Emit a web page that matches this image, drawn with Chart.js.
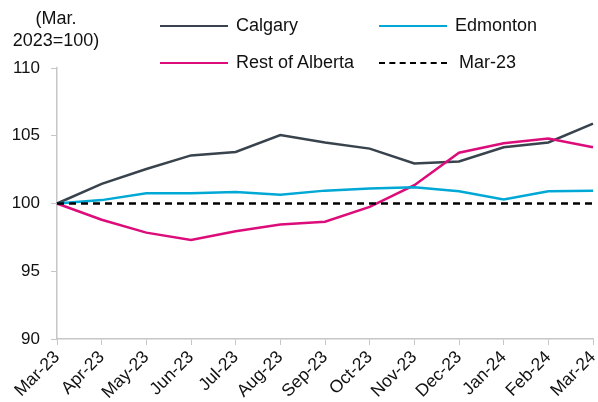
<!DOCTYPE html>
<html>
<head>
<meta charset="utf-8">
<script src="https://cdn.jsdelivr.net/npm/chart.js@4/dist/chart.umd.min.js"></script>
<style>
  html, body { margin:0; padding:0; background:#fff; }
  #wrap { position:relative; width:598px; height:402px; font-family:"Liberation Sans", Arial, sans-serif; }
  canvas { position:absolute; left:0; top:0; }
  .ytitle { position:absolute; left:-2px; top:7px; width:116px; text-align:center; font-size:18px; line-height:22px; color:#111; }
  .leg { position:absolute; font-size:18px; color:#111; display:flex; align-items:center; white-space:nowrap; }
  .leg .ln { width:68px; height:0; margin-right:8px; }
</style>
</head>
<body>
<div id="wrap">
  <canvas id="c" width="598" height="402"></canvas>
  <div class="ytitle">(Mar.<br>2023=100)</div>
  <div class="leg" style="left:160px; top:15px;"><span class="ln" style="border-top:2.5px solid #38434d"></span>Calgary</div>
  <div class="leg" style="left:379px; top:15px;"><span class="ln" style="border-top:2.5px solid #00a8d5"></span>Edmonton</div>
  <div class="leg" style="left:160px; top:52px;"><span class="ln" style="border-top:2.5px solid #dc0c7a"></span>Rest of Alberta</div>
  <div class="leg" style="left:379px; top:52px;"><span class="ln" style="border-top:2.5px dashed #000; margin-right:12px"></span>Mar-23</div>
</div>
<script>
const categories = ["Mar-23","Apr-23","May-23","Jun-23","Jul-23","Aug-23","Sep-23","Oct-23","Nov-23","Dec-23","Jan-24","Feb-24","Mar-24"];
const calgary = [100, 101.45, 102.55, 103.55, 103.8, 105.05, 104.5, 104.05, 102.95, 103.1, 104.15, 104.5, 105.9];
const edmonton = [100, 100.25, 100.75, 100.75, 100.85, 100.65, 100.95, 101.1, 101.2, 100.9, 100.3, 100.9, 100.95];
const restOfAlberta = [100, 98.8, 97.85, 97.3, 97.95, 98.45, 98.65, 99.75, 101.35, 103.75, 104.45, 104.8, 104.15];
const baseline = [100, 100, 100, 100, 100, 100, 100, 100, 100, 100, 100, 100, 100];
const yTicks = [90, 95, 100, 105, 110];

const axisGrey = '#c6c6c6';
new Chart(document.getElementById('c'), {
  type: 'line',
  data: {
    labels: categories,
    datasets: [
      { label: 'Mar-23', data: baseline, borderColor: '#000', borderWidth: 2.5, borderDash: [7, 5], pointRadius: 0, tension: 0 },
      { label: 'Edmonton', data: edmonton, borderColor: '#00a8d5', borderWidth: 2.5, pointRadius: 0, tension: 0 },
      { label: 'Rest of Alberta', data: restOfAlberta, borderColor: '#dc0c7a', borderWidth: 2.5, pointRadius: 0, tension: 0 },
      { label: 'Calgary', data: calgary, borderColor: '#38434d', borderWidth: 2.5, pointRadius: 0, tension: 0 }
    ]
  },
  options: {
    responsive: false,
    animation: false,
    layout: { padding: { top: 68, right: 5, left: 0, bottom: 0 } },
    plugins: { legend: { display: false }, tooltip: { enabled: false } },
    scales: {
      x: {
        offset: false,
        afterFit: (ax) => { ax.height = 63; ax.paddingRight = 0; },
        grid: { display: true, drawOnChartArea: false, drawTicks: true, tickLength: 6, color: axisGrey },
        border: { display: true, color: axisGrey, width: 1.5 },
        ticks: { color: '#111', font: { family: 'Liberation Sans', size: 17.5 }, maxRotation: 45, minRotation: 45, autoSkip: false, padding: 2 }
      },
      y: {
        min: 90, max: 110,
        afterBuildTicks: (ax) => { ax.ticks = yTicks.map(v => ({ value: v })); },
        afterFit: (ax) => { ax.width = 57; },
        grid: { display: true, drawOnChartArea: false, drawTicks: true, tickLength: 6, color: axisGrey },
        border: { display: true, color: axisGrey, width: 1.5 },
        ticks: { color: '#111', font: { family: 'Liberation Sans', size: 17 }, padding: 11 }
      }
    }
  }
});
</script>
</body>
</html>
